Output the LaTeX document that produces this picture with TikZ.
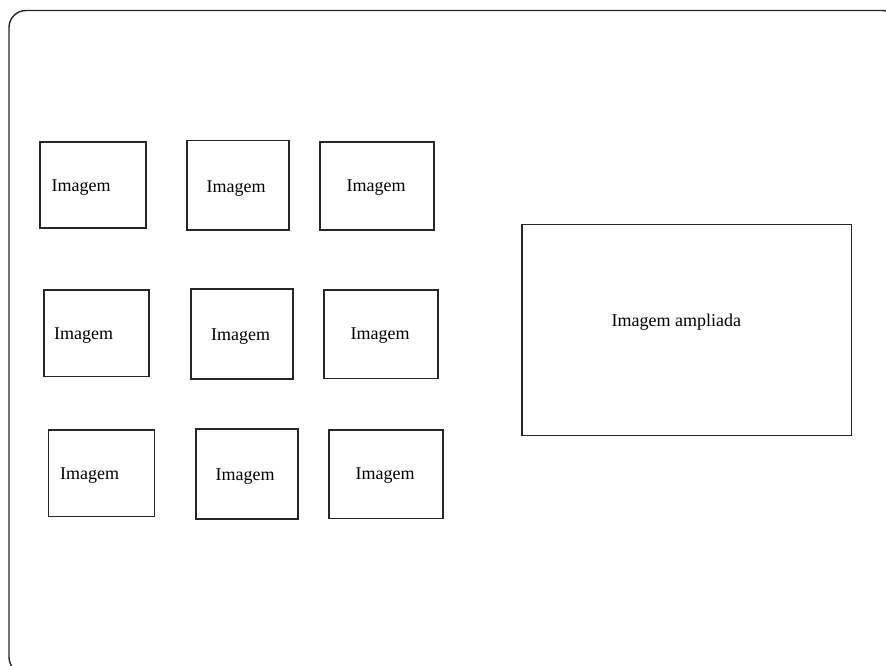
\documentclass[tikz,border=0pt]{standalone}
\usepackage{fontspec}
\setmainfont{Liberation Serif}
\begin{document}
\begin{tikzpicture}[x=1pt,y=-1pt,
  frame/.style={draw=black!85,line width=1.4pt,rounded corners=17pt},
  imgbox/.style={draw=black!85,line width=1.3pt},
  lbl/.style={anchor=base west,inner sep=0pt,font=\fontsize{18}{20}\selectfont}]
\useasboundingbox (0,0) rectangle (886,666);
\begin{scope}
\clip (0,0) rectangle (886,666);
\draw[frame] (9,10.5) rectangle (899,674);
\end{scope}
% row 1
\draw[imgbox] (40,142) rectangle (146,228) node[midway,name=b11]{};
\draw[imgbox] (187,140.5) rectangle (289,230) node[midway,name=b12]{};
\draw[imgbox] (320,142) rectangle (434,230) node[midway,name=b13]{};
% row 2
\draw[imgbox] (44,290) rectangle (149,376.5) node[midway,name=b21]{};
\draw[imgbox] (191,289) rectangle (293,379) node[midway,name=b22]{};
\draw[imgbox] (324,290) rectangle (438,378.5) node[midway,name=b23]{};
% row 3
\draw[imgbox] (48.5,430) rectangle (154.5,516.5) node[midway,name=b31]{};
\draw[imgbox] (196,429) rectangle (298,519) node[midway,name=b32]{};
\draw[imgbox] (329,430) rectangle (443,518.5) node[midway,name=b33]{};
% large
\draw[imgbox] (522,224.5) rectangle (851.5,435.5) node[midway,name=big]{};
% labels
\node[lbl] (t11) at (51.5,191) {Imagem};
\node[lbl] (t12) at (206.5,192) {Imagem};
\node[lbl] (t13) at (346.5,191.5) {Imagem};
\node[lbl] (t21) at (54,339.5) {Imagem};
\node[lbl] (t22) at (211,340.5) {Imagem};
\node[lbl] (t23) at (350.5,339.5) {Imagem};
\node[lbl] (t31) at (60,479.5) {Imagem};
\node[lbl] (t32) at (215.5,480.5) {Imagem};
\node[lbl] (t33) at (355.5,479.5) {Imagem};
\node[lbl] (tbig) at (611.5,326) {Imagem ampliada};
\end{tikzpicture}
\end{document}
